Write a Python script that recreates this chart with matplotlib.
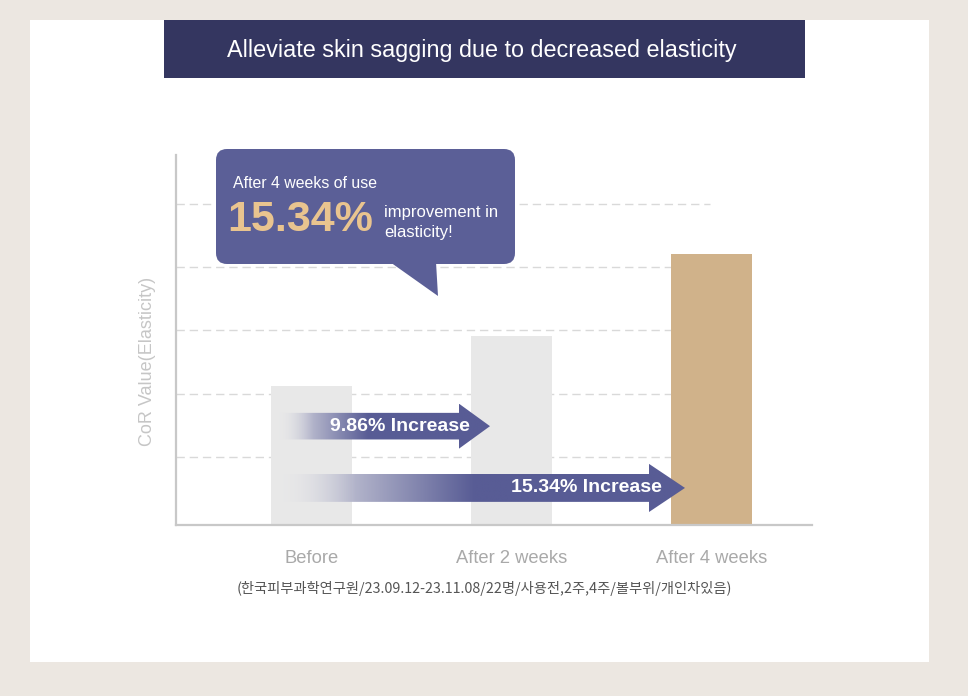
import matplotlib
matplotlib.use('Agg')
import matplotlib.pyplot as plt
from matplotlib.patches import Rectangle, FancyBboxPatch, Polygon
from matplotlib.transforms import Affine2D
import matplotlib.colors as mcolors
import numpy as np

# data
categories = ['Before', 'After 2 weeks', 'After 4 weeks']
values = [2.2, 2.98, 4.28]
bar_colors = ['#e8e8e8', '#e8e8e8', '#d0b28a']
grid_levels = [1.07, 2.07, 3.07, 4.07, 5.07]
increase_labels = ['9.86% Increase', '15.34% Increase']
arrow_from = [0, 0]
arrow_to = [1, 2]
arrow_y = [1.56, 0.585]

W, H = 968, 696
fig = plt.figure(figsize=(W / 100, H / 100), dpi=100)
fig.patch.set_facecolor('#ece7e1')

# pixel transform (origin top-left)
px = Affine2D().scale(0.01, -0.01).translate(0, H / 100) + fig.dpi_scale_trans

fig.patches.append(Rectangle((30, 20), 899, 642, transform=px, facecolor='white',
                             edgecolor='none', zorder=0))
fig.patches.append(Rectangle((164, 20), 641, 58, transform=px, facecolor='#343660',
                             edgecolor='none', zorder=1))
fig.text(482 / W, 1 - 51 / H, 'Alleviate skin sagging due to decreased elasticity',
         color='white', fontsize=16.8, family='Liberation Sans', ha='center', va='center')

# chart axes
ax = fig.add_axes([176 / W, 1 - 525 / H, (812 - 176) / W, (525 - 155) / H])
ax.set_zorder(2)
ax.set_facecolor('none')
x = np.arange(len(categories))

ax.hlines(grid_levels, -0.6775, 1.99, colors='#d9d9d9', linewidth=1,
          linestyles=(0, (6, 3.5)), zorder=1)
ax.bar(x, values, width=0.405, color=bar_colors, zorder=2)

for s in ['top', 'right']:
    ax.spines[s].set_visible(False)
for s in ['left', 'bottom']:
    ax.spines[s].set_color('#c8c8c8')
    ax.spines[s].set_linewidth(1.6)
ax.set_yticks([])
ax.set_xticks(x)
ax.set_xticklabels(categories, fontsize=13.2, color='#a9a9a9', family='Liberation Sans')
ax.tick_params(axis='x', length=0, pad=18)
ax.set_ylabel('CoR Value(Elasticity)', fontsize=13, color='#c6c6c6',
              family='Liberation Sans')
ax.yaxis.set_label_coords(-0.031, 0.443)

# gradient arrows
navy = np.array(mcolors.to_rgb('#585c95'))
fade = [0.46, 0.99]
tip_off = [0.1075, 0.1325]
for i in range(len(increase_labels)):
    y0 = arrow_y[i]
    xs = arrow_from[i] - 0.18
    xt = arrow_to[i] - tip_off[i]
    xb = xt - (0.155 if i == 0 else 0.18)
    bh = 0.21 if i == 0 else 0.22
    hh = 0.355 if i == 0 else 0.38
    poly = Polygon([(xs, y0 - bh), (xb, y0 - bh), (xb, y0 - hh), (xt, y0),
                    (xb, y0 + hh), (xb, y0 + bh), (xs, y0 + bh)],
                   closed=True, facecolor='none', edgecolor='none', zorder=3)
    ax.add_patch(poly)
    n = 300
    xx = np.linspace(xs, xt, n)
    t = np.clip((xx - xs) / fade[i], 0, 1)
    img = np.zeros((1, n, 4))
    img[0, :, :3] = (1 - t)[:, None] * 0.93 + t[:, None] * navy
    img[0, :, 3] = np.clip(t * 2.5, 0, 1)
    im = ax.imshow(img, extent=[xs, xt, y0 - hh, y0 + hh], aspect='auto',
                   interpolation='bilinear', zorder=3)
    im.set_clip_path(poly)
    if i == 0:
        ax.text(0.4425, y0, increase_labels[i], color='white', fontsize=14,
                fontweight='bold', family='Liberation Sans', ha='center', va='center', zorder=4)
    else:
        ax.text(1.75, y0, increase_labels[i], color='white', fontsize=14,
                fontweight='bold', family='Liberation Sans', ha='right', va='center', zorder=4)
ax.set_xlim(-0.6775, 2.5025)
ax.set_ylim(0, 5.84)

# speech bubble
bub = '#5b5f97'
fig.patches.append(FancyBboxPatch((216, 149), 299, 115, boxstyle='round,pad=0,rounding_size=11',
                                  transform=px, facecolor=bub, edgecolor='none', zorder=5))
fig.patches.append(Polygon([(390, 262), (436, 262), (438, 296)], closed=True, transform=px,
                           facecolor=bub, edgecolor='none', zorder=5))
fig.text(233 / W, 1 - 184 / H, 'After 4 weeks of use', color='white', fontsize=11.4,
         family='Liberation Sans', ha='left', va='center', zorder=6)
fig.text(227 / W, 1 - 220 / H, '15.34%', color='#e9c48f', fontsize=31, fontweight='bold',
         family='Liberation Sans', ha='left', va='center', zorder=6)
fig.text(384 / W, 1 - 213 / H, 'improvement in', color='white', fontsize=12,
         family='Liberation Sans', ha='left', va='center', zorder=6)
fig.text(384 / W, 1 - 233 / H, 'elasticity!', color='white', fontsize=12,
         family='Liberation Sans', ha='left', va='center', zorder=6)

# footnote
fig.text(484 / W, 1 - 588 / H,
         '(한국피부과학연구원/23.09.12-23.11.08/22명/사용전,2주,4주/볼부위/개인차있음)',
         color='#555555', fontsize=10.3, family=['Noto Sans CJK KR', 'DejaVu Sans'],
         ha='center', va='center')

fig.savefig('out.png', dpi=100, facecolor=fig.get_facecolor())
